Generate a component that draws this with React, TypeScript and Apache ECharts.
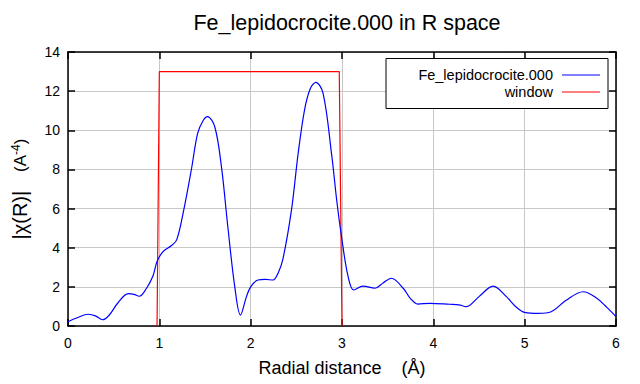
import React, { useEffect, useRef } from "react";
import * as echarts from "echarts";

const titleText = "Fe_lepidocrocite.000 in R space";
const seriesNames = ["Fe_lepidocrocite.000", "window"];
const xTicks = [0, 1, 2, 3, 4, 5, 6];
const yTicks = [0, 2, 4, 6, 8, 10, 12, 14];

const chiR: [number, number][] = [
  [0, 0.22], [0.1, 0.42], [0.22, 0.6], [0.3, 0.52], [0.38, 0.32], [0.45, 0.55],
  [0.55, 1.2], [0.66, 1.65], [0.72, 1.62], [0.78, 1.52], [0.86, 1.93], [0.93, 2.55],
  [0.975, 3.3], [1.04, 3.8], [1.13, 4.1], [1.19, 4.4], [1.26, 5.76], [1.35, 7.97],
  [1.42, 9.85], [1.48, 10.5], [1.527, 10.7], [1.607, 10.18], [1.68, 8.14], [1.75, 5.07],
  [1.826, 2.0], [1.888, 0.56], [1.954, 1.5], [2.0, 2.0], [2.08, 2.35], [2.16, 2.38],
  [2.245, 2.35], [2.3, 2.7], [2.355, 3.46], [2.447, 5.93], [2.52, 8.82], [2.59, 11.04],
  [2.65, 12.1], [2.713, 12.45], [2.793, 11.89], [2.885, 8.82], [2.946, 6.27], [2.995, 4.56],
  [3.067, 2.52], [3.13, 1.84], [3.23, 2.04], [3.36, 1.93], [3.45, 2.2], [3.54, 2.44],
  [3.67, 1.93], [3.75, 1.4], [3.83, 1.12], [3.96, 1.16], [4.18, 1.11], [4.28, 1.08],
  [4.36, 0.99], [4.5, 1.5], [4.655, 2.04], [4.8, 1.5], [4.9, 1.0], [5.0, 0.7],
  [5.15, 0.65], [5.29, 0.73], [5.45, 1.3], [5.64, 1.75], [5.79, 1.42], [5.9, 0.95],
  [6.0, 0.48],
];

const windowData: [number, number][] = [
  [0.975, 0], [1.0, 13], [2.97, 13], [3.0, 0],
];

const FONT = "Liberation Sans, Arial, sans-serif";

export default function App() {
  const ref = useRef<HTMLDivElement>(null);
  useEffect(() => {
    if (!ref.current) return;
    const chart = echarts.init(ref.current, null, { renderer: "svg" });
    const gridLeft = 68, gridRight = 24, gridTop = 52, gridBottom = 58;
    const axisCommon = {
      axisLine: { show: true, onZero: false, lineStyle: { color: "#000", width: 1.5 } },
      axisTick: { show: true, inside: true, length: 7, lineStyle: { color: "#000", width: 1.5 } },
    };
    chart.setOption({
      animation: false,
      backgroundColor: "#fff",
      textStyle: { fontFamily: FONT },
      title: {
        text: titleText,
        left: 342,
        top: 7,
        textAlign: "center",
        textStyle: { fontFamily: FONT, fontSize: 21.5, fontWeight: "normal", color: "#000" },
      },
      grid: { left: gridLeft, right: gridRight, top: gridTop, bottom: gridBottom },
      legend: { show: false },
      xAxis: [
        {
          type: "value",
          min: xTicks[0],
          max: xTicks[xTicks.length - 1],
          interval: 1,
          ...axisCommon,
          axisLabel: { color: "#000", fontSize: 14, fontFamily: FONT, margin: 10 },
          splitLine: { show: true, lineStyle: { color: "#c8c8c8", width: 1 } },
          name: "Radial distance    (Å)",
          nameLocation: "middle",
          nameGap: 33,
          nameTextStyle: { color: "#000", fontSize: 18, fontFamily: FONT },
        },
        {
          type: "value",
          position: "top",
          min: xTicks[0],
          max: xTicks[xTicks.length - 1],
          interval: 1,
          ...axisCommon,
          axisLabel: { show: false },
          splitLine: { show: false },
        },
      ],
      yAxis: [
        {
          type: "value",
          min: yTicks[0],
          max: yTicks[yTicks.length - 1],
          interval: 2,
          ...axisCommon,
          axisLabel: { color: "#000", fontSize: 14, fontFamily: FONT, margin: 8 },
          splitLine: { show: true, lineStyle: { color: "#c8c8c8", width: 1 } },
          name: "{a||χ(R)|}{b|    (A}{s|-4}{b|)}",
          nameLocation: "middle",
          nameGap: 38,
          nameRotate: 90,
          nameTextStyle: {
            color: "#000",
            fontFamily: FONT,
            rich: {
              a: { fontSize: 20, fontFamily: FONT, color: "#000" },
              b: { fontSize: 17, fontFamily: FONT, color: "#000" },
              s: { fontSize: 12, fontFamily: FONT, color: "#000", verticalAlign: "top", padding: [0, 0, 8, 0] },
            },
          },
        },
        {
          type: "value",
          position: "right",
          min: yTicks[0],
          max: yTicks[yTicks.length - 1],
          interval: 2,
          ...axisCommon,
          axisLabel: { show: false },
          splitLine: { show: false },
        },
      ],
      series: [
        {
          name: seriesNames[0],
          type: "line",
          data: chiR,
          smooth: 0.35,
          symbol: "none",
          lineStyle: { color: "#0000ff", width: 1.2 },
          z: 3,
        },
        {
          name: seriesNames[1],
          type: "line",
          data: windowData,
          symbol: "none",
          lineStyle: { color: "#ff0000", width: 1.2 },
          z: 2,
        },
      ],
      graphic: [
        {
          type: "rect",
          shape: { x: 386, y: 58.5, width: 222, height: 50 },
          style: { fill: "#fff", stroke: "#000", lineWidth: 1 },
          z: 10,
        },
        {
          type: "text",
          x: 553,
          y: 75,
          style: { text: seriesNames[0], fill: "#000", font: `14.5px ${FONT}`, textAlign: "right", textVerticalAlign: "middle" },
          z: 11,
        },
        {
          type: "line",
          shape: { x1: 562, y1: 75, x2: 600, y2: 75 },
          style: { stroke: "#0000ff", lineWidth: 1.2 },
          z: 11,
        },
        {
          type: "text",
          x: 553,
          y: 92,
          style: { text: seriesNames[1], fill: "#000", font: `14.5px ${FONT}`, textAlign: "right", textVerticalAlign: "middle" },
          z: 11,
        },
        {
          type: "line",
          shape: { x1: 562, y1: 92, x2: 600, y2: 92 },
          style: { stroke: "#ff0000", lineWidth: 1.2 },
          z: 11,
        },
      ],
    });
    return () => chart.dispose();
  }, []);
  return <div ref={ref} style={{ width: 640, height: 384, position: "absolute", left: 0, top: 0 }} />;
}
